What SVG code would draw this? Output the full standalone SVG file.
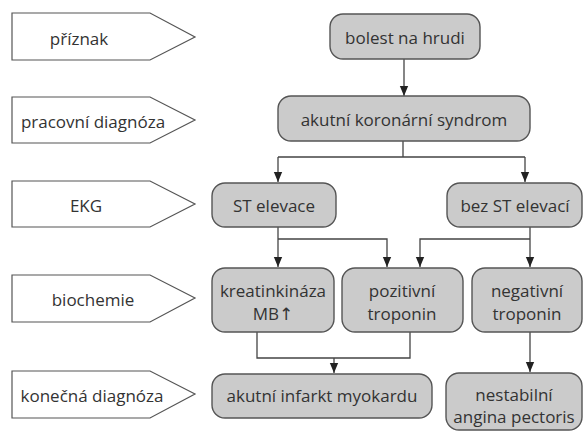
<svg xmlns="http://www.w3.org/2000/svg" width="587" height="432" viewBox="0 0 587 432">
<defs>
<style>
.lab{fill:#fff;stroke:#555;stroke-width:1.2}
.box{fill:#cbcbcb;stroke:#555;stroke-width:1.4}
text{font-family:"Open Sans","Noto Sans",sans-serif;font-size:17px;fill:#333;text-anchor:middle}
.con{fill:none;stroke:#444;stroke-width:1.3}
.arr{font-family:"DejaVu Sans",sans-serif;font-size:17px}
</style>
<marker id="ah" markerWidth="10" markerHeight="13" refX="12" refY="5" orient="auto" markerUnits="userSpaceOnUse" viewBox="0 0 12 10">
<path d="M0,0 L12,5 L0,10 Z" fill="#222"/>
</marker>
</defs>
<rect width="587" height="432" fill="#fff"/>
<g id="label-priznak"><path class="lab" d="M12,13 H150 L195,37 L150,60 H12 Z"/><text x="79" y="45">příznak</text></g>
<g id="label-pracovni"><path class="lab" d="M12,97 H150 L195,120 L150,143 H12 Z"/><text x="93" y="128">pracovní diagnóza</text></g>
<g id="label-ekg"><path class="lab" d="M12,181 H150 L195,204 L150,227 H12 Z"/><text x="86" y="212">EKG</text></g>
<g id="label-biochemie"><path class="lab" d="M12,275 H150 L195,298 L150,322 H12 Z"/><text x="93" y="306">biochemie</text></g>
<g id="label-konecna"><path class="lab" d="M12,371 H150 L195,394 L150,418 H12 Z"/><text x="92" y="402">konečná diagnóza</text></g>
<g id="connectors">
<path class="con" d="M404,59 V96" marker-end="url(#ah)"/>
<path class="con" d="M403,141 V157 M278,157 H525"/>
<path class="con" d="M278,157 V182" marker-end="url(#ah)"/>
<path class="con" d="M525,157 V182" marker-end="url(#ah)"/>
<path class="con" d="M278,227 V267" marker-end="url(#ah)"/>
<path class="con" d="M278,239 H387 V267" marker-end="url(#ah)"/>
<path class="con" d="M530,227 V267" marker-end="url(#ah)"/>
<path class="con" d="M530,239 H420 V267" marker-end="url(#ah)"/>
<path class="con" d="M257,332 V358 H410 V332"/>
<path class="con" d="M334,358 V373" marker-end="url(#ah)"/>
<path class="con" d="M530,332 V372" marker-end="url(#ah)"/>
</g>
<g id="n-bolest"><rect class="box" x="330" y="14" width="150" height="45" rx="13"/><text x="405" y="44">bolest na hrudi</text></g>
<g id="n-aks"><rect class="box" x="278" y="96" width="252" height="45" rx="13"/><text x="404" y="126">akutní koronární syndrom</text></g>
<g id="n-st"><rect class="box" x="212" y="183" width="124" height="44" rx="13"/><text x="274" y="212">ST elevace</text></g>
<g id="n-bezst"><rect class="box" x="447" y="183" width="135" height="44" rx="13"/><text x="515" y="212">bez ST elevací</text></g>
<g id="n-kreat"><rect class="box" x="212" y="268" width="122" height="64" rx="13"/><text x="273" y="297">kreatinkináza</text><text x="273" y="320">MB<tspan class="arr">↑</tspan></text></g>
<g id="n-poz"><rect class="box" x="342" y="268" width="121" height="64" rx="13"/><text x="402" y="297">pozitivní</text><text x="402" y="320">troponin</text></g>
<g id="n-neg"><rect class="box" x="472" y="268" width="110" height="64" rx="13"/><text x="527" y="297">negativní</text><text x="527" y="320">troponin</text></g>
<g id="n-aim"><rect class="box" x="212" y="374" width="220" height="44" rx="13"/><text x="322" y="402">akutní infarkt myokardu</text></g>
<g id="n-nap"><rect class="box" x="446" y="373" width="136" height="57" rx="13"/><text x="514" y="401">nestabilní</text><text x="514" y="423">angina pectoris</text></g>
</svg>
